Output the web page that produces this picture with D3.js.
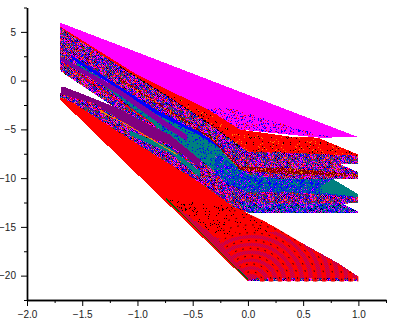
<!DOCTYPE html>
<html>
<head>
<meta charset="utf-8">
<script src="https://cdn.jsdelivr.net/npm/d3@7"></script>
<style>
html,body{margin:0;padding:0;background:#fff;overflow:hidden}
</style>
</head>
<body>
<div id="graph"></div>
<script>
"use strict"
var xMajor=[-2,-1.5,-1,-.5,0,.5,1]
var xMinor=[-1.75,-1.25,-.75,-.25,.25,.75,1.25]
var yMajor=[5,0,-5,-10,-15,-20]
var yMinor=[7.5,2.5,-2.5,-7.5,-12.5,-17.5,-22.5]

// outlines of the bands as [x,y], painted in this order
var magentaBand=[[-1.7,5.95],[1,-5.8],[.65,-5.85],[-.07,-5.03],[-.36,-2.97],[-1.005,.62],[-1.7,5.54]]
var magentaDots=[[-.36,-2.7],[-.14,-2.9],[.5,-5.1],[.75,-5.8],[-.07,-5.03],[-.36,-2.97]]
var redBand=[[-1.7,5.54],[-1.005,.62],[-.36,-2.97],[-.07,-5.03],[.38,-5.74],[.634,-5.85],[1,-7.59],[1,-8.6],[0,-8.6],[-1.7,5.2]]
var redDots=[[-.7,-1.4],[-.36,-3.4],[-.07,-5.4],[.38,-5.8],[.634,-5.9],[1,-7.65],[1,-8.4],[0,-8.4]]
var upperMix=[[-1.7,5.44],[-1.16,1.44],[-.68,-1.95],[-.36,-4.31],[0,-7.28],[.335,-7.38],[1,-7.7],[1,-8.5],[.83,-8.55],[1,-9.4],[1,-10.05],[.77,-10.1],[1,-11.65],[1,-12.5],[.86,-12.65],[1,-13.44],[1,-13.54],[0,-13.54],[-.136,-13.2],[-.435,-10.7],[-.89,-7.2],[-1.205,-2.77],[-1.69,.92],[-1.7,1.13]]
var wineBand=[[-1.16,.3],[-.34,-5.7],[-.07,-8.85],[.38,-9],[1,-9.64],[1,-9.85],[.38,-9.6],[-.07,-9.2],[-.34,-5.95],[-1.16,.05]]
var blueStripe=[[-1.6,2.6],[-.82,-3.1],[-.435,-5.3],[-.2,-7.2],[-.2,-7.6],[-.435,-5.7],[-.82,-3.5],[-1.6,2.3]]
var tealBand=[[-1.55,1.85],[-.82,-3.5],[-.435,-5.6],[-.2,-7.4],[0,-9.6],[0,-11],[-.2,-10.2],[-.435,-8.1],[-.82,-4.8],[-1.55,1.6]]
var blueMix=[[-.3,-7.4],[0,-9.6],[.3,-10.1],[.77,-10.1],[1,-11.65],[1,-11.95],[.4,-11.45],[0,-11.45],[-.2,-10.5],[-.3,-9.4]]
var tealWedge=[[.77,-10.1],[1,-11.65],[1,-11.95],[.68,-11.5],[.66,-10.8]]
var tealLow=[[-.1,-12.3],[.1,-12.7],[.86,-12.65],[1,-13.44],[1,-13.54],[0,-13.54]]
var purpleUpper=[[-1.7,2.5],[-1.16,-.9],[-.75,-4.1],[-.55,-5.6],[-.55,-6.2],[-.75,-4.8],[-1.16,-1.5],[-1.7,2.1]]
var redLine=[[-1.68,1.85],[-.85,-4.5]]
var lowerMix=[[-1.7,-1.23],[-1.404,-2.1],[-.915,-5.5],[-.707,-6.4],[-.435,-8.8],[-.3,-11],[-.435,-10.6],[-.89,-7.3],[-1.585,-2.26],[-1.7,-1.74]]
var tealThin=[[-1.07,-5.1],[-.707,-6.87],[-.435,-9.3],[-.435,-9.9],[-.707,-7.38],[-1.07,-5.6]]
var purpleLower=[[-1.69,-.62],[-1.667,-.62],[-1.187,-2.77],[-.915,-4.41],[-.707,-5.54],[-.435,-8.1],[-.435,-8.92],[-.707,-6.56],[-.915,-5.74],[-1.404,-2.26],[-1.69,-1.44]]
var orangeLine=[[-1.34,-3.08],[-1.096,-4.5],[-.64,-7.6]]
var redTriangle=[[-1.7,-1.74],[-1.585,-2.26],[-.89,-7.3],[-.435,-10.46],[-.136,-12.9],[.172,-14.56],[1,-20.1],[1,-20.6],[0,-20.6],[-1.7,-1.95]]
var blackDotArea=[[-.73,-12.2],[-.136,-12.9],[.3,-15.4],[-.28,-16.2]]
var purpleLow=[[-.73,-12.2],[-.48,-14.4],[-.28,-16.2],[.29,-15.4],[.83,-18.8],[1,-20.1],[1,-20.6],[0,-20.6]]
var arcArea=[[-.28,-16.2],[-.136,-12.9],[.172,-14.56],[1,-20.1],[1,-20.6],[.03,-20.6]]
var footMix=[[.02,-20.3],[1,-20.2],[1,-20.6],[0,-20.6]]
var edgeLine=[[-.74,-12.1],[0,-20.4]]
var blackLine=[[-1.16,1.44],[-.68,-1.95],[-.36,-4.31],[-.07,-6.8]]
var arcCentre=[.03,-20.6]
var arcRadii=[.1,.18,.26,.34,.42,.5,.58,.66,.74,.82,.9,.98]

var x=d3.scaleLinear().domain([-2,1.25]).range([27,386])
var y=d3.scaleLinear().domain([-22.5,7.5]).range([300,7.5])
var svg=d3.select('#graph').append('svg').attr('width',400).attr('height',323)
var defs=svg.append('defs')

// 1px texture tiles for the places where the many series overprint each other
// alt is used on the odd cells, which gives the checkered look of the overprint
function addPattern(id,size,colors,alt){
  var p=defs.append('pattern').attr('id',id).attr('patternUnits','userSpaceOnUse').attr('width',size).attr('height',size)
  for(var i=0;i<size;i++)
    for(var j=0;j<size;j++){
      var h=Math.imul(i*257+j+1,2654435761)
      h^=h>>>15
      h=Math.imul(h,2246822519)
      h^=h>>>13
      var list=(alt&&(i+j)%2)?alt:colors
      var c=list[(h>>>0)%list.length]
      if(c)
        p.append('rect').attr('x',i).attr('y',j).attr('width',1).attr('height',1).attr('fill',c).attr('shape-rendering','crispEdges')
    }
}
addPattern('mix',42,['#ff00ff','#ff0000','#800080','#0000ff','#ff00ff','#800080'],['#0000ff','#800080','#ff00ff','#008080','#ff0000','#008000','#000000','#ff8000','#0000ff','#008080','#000080'])
addPattern('blueTeal',42,['#0000ff','#0000ff','#0000ff','#008080'],['#008080','#008080','#0000ff','#008080','#ff00ff','#008080'])
addPattern('tealLow',42,['#008080','#008080','#0000ff','#ff00ff'],['#008080','#0000ff','#000000','#ff00ff','#0000ff','#800080'])
addPattern('tealDots',41,[null,null,null,null,null,null,null,'#0000ff'])
addPattern('wine',41,['#800000','#800000','#800000','#ff0000','#800000','#800000','#ff8000','#800000','#ff00ff'])
addPattern('redDots',37,[null,null,null,null,null,null,null,null,null,null,null,null,null,null,null,'#000000',null,null,null,null,null,null,null,null,null,null,null,'#ff8000'])
addPattern('blackDots',37,[null,null,null,null,null,null,null,null,null,null,null,null,null,null,'#000000'])
addPattern('magDots',37,[null,null,null,'#0000ff',null,null,null,null,'#ff0000',null,null,'#0000ff',null])
defs.append('pattern').attr('id','checker').attr('patternUnits','userSpaceOnUse').attr('width',2).attr('height',2)
  .html('<rect width="2" height="2" fill="#ff0000"/><rect width="1" height="1" fill="#a00080" shape-rendering="crispEdges"/><rect x="1" y="1" width="1" height="1" fill="#a00080" shape-rendering="crispEdges"/>')

var line=d3.line().x(function(d){return x(d[0])}).y(function(d){return y(d[1])})
var plot=svg.append('g').attr('shape-rendering','crispEdges')

function band(pts,fill){
  return plot.append('path').attr('d',line(pts)+'Z').attr('fill',fill)
}
function stroke(pts,color,w){
  return plot.append('path').attr('d',line(pts)).attr('fill','none').attr('stroke',color).attr('stroke-width',w)
}

band(magentaBand,'#ff00ff')
band(magentaDots,'url(#magDots)')
band(redBand,'#ff0000')
band(redDots,'url(#redDots)')
band(upperMix,'url(#mix)')
stroke(blackLine,'#000',1).attr('stroke-dasharray','2 2')
band(blueStripe,'#0000ff')
band(tealBand,'#008080')
band(tealBand,'url(#tealDots)')
band(blueMix,'url(#blueTeal)')
band(tealWedge,'#008080')
band(tealLow,'url(#tealLow)')
band(wineBand,'url(#wine)')
band(purpleUpper,'#8000a0')
stroke(redLine,'#ff0000',1)
band(lowerMix,'url(#mix)')
band(tealThin,'#008080')
band(purpleLower,'#800080')
stroke(orangeLine,'#ff8000',1)
band(redTriangle,'#ff0000')
band(blackDotArea,'url(#blackDots)')
band(purpleLow,'url(#checker)')

// curved runs of dots in the lower triangle
defs.append('clipPath').attr('id','lowClip').append('path').attr('d',line(arcArea)+'Z')
var arcs=svg.append('g').attr('clip-path','url(#lowClip)')
arcRadii.forEach(function(r){
  var rx=x(arcCentre[0]+r)-x(arcCentre[0])
  var ry=y(arcCentre[1])-y(arcCentre[1]+r*10)
  arcs.append('ellipse').attr('cx',x(arcCentre[0])).attr('cy',y(arcCentre[1])).attr('rx',rx).attr('ry',ry)
    .attr('fill','none').attr('stroke','#ff0000').attr('stroke-width',4.5)
  arcs.append('ellipse').attr('cx',x(arcCentre[0])).attr('cy',y(arcCentre[1])).attr('rx',rx).attr('ry',ry)
    .attr('fill','none').attr('stroke','#000').attr('stroke-width',1).attr('stroke-dasharray','1.5 6')
})
band(footMix,'url(#mix)')
stroke(edgeLine,'#006400',1)

// axes
svg.append('g').attr('transform','translate(0,300)').call(d3.axisBottom(x).tickValues(xMajor).tickSize(6).tickSizeOuter(0).tickFormat(d3.format('.1f')).tickPadding(5))
svg.append('g').attr('transform','translate(0,300)').call(d3.axisBottom(x).tickValues(xMinor).tickSize(3).tickSizeOuter(0).tickFormat(''))
svg.append('g').attr('transform','translate(27,0)').call(d3.axisLeft(y).tickValues(yMajor).tickSize(6).tickSizeOuter(0).tickFormat(d3.format('d')).tickPadding(5))
svg.append('g').attr('transform','translate(27,0)').call(d3.axisLeft(y).tickValues(yMinor).tickSize(3).tickSizeOuter(0).tickFormat(''))
svg.selectAll('.domain').attr('stroke','#000').attr('stroke-width',1.4)
svg.selectAll('.tick line').attr('stroke','#000').attr('stroke-width',1)
svg.selectAll('.tick text').attr('font-family','"Liberation Sans",Arial,sans-serif').attr('font-size',10).attr('fill','#222')
</script>
</body>
</html>
